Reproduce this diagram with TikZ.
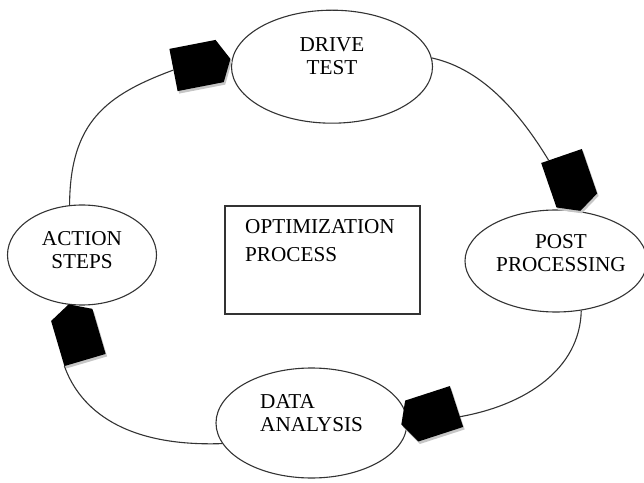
\documentclass[tikz,border=0pt]{standalone}
\usepackage{fontspec}
\setmainfont{Liberation Serif}
\usetikzlibrary{shapes.geometric,calc}
\begin{document}
\begin{tikzpicture}[x=1pt,y=1pt,
  ell/.style={draw=black!80, line width=1.1pt, ellipse, inner sep=0pt},
  lbl/.style={inner sep=0pt, font=\fontsize{21.2}{23}\selectfont, align=center},
  conn/.style={draw=black!80, line width=1.1pt},
  penta/.pic={\fill (0,-21.5) -- (47,-21.5) -- (58,0) -- (47,21.5) -- (0,21.5) -- cycle;
    \coordinate (-b) at (0,0); \coordinate (-s) at (0,-21.5); \coordinate (-n) at (0,21.5);},
  shade/.style={gray!45}]
\useasboundingbox (0,0) rectangle (644,482);
% ellipses
\node[ell, minimum width=201pt, minimum height=113pt] (dt) at (332,415.3) {};
\node[ell, minimum width=182pt, minimum height=102pt] (pp) at (556,221) {};
\node[ell, minimum width=149pt, minimum height=100pt] (as) at (82,227) {};
\node[ell, minimum width=191pt, minimum height=110pt] (da) at (311.5,59) {};
% central box
\node[draw=black!80, line width=1.3pt, minimum width=195pt, minimum height=108pt, inner sep=0pt] (ob) at (322.5,222) {};
% labels
\node[lbl] (dtt) at (332,426) {DRIVE\\TEST};
\node[lbl] (ppt) at (561,228.5) {POST\\PROCESSING};
\node[lbl] (ast) at (82,231.5) {ACTION\\STEPS};
\node[lbl, align=left, anchor=west] (dat) at (260,68.5) {DATA\\ANALYSIS};
\node[lbl, align=left, anchor=west, font=\fontsize{21.2}{28}\selectfont] (obt) at (245,241) {OPTIMIZATION\\PROCESS};
% arrow heads (shadow, then head)
\pic[rotate=11, shade] (s1) at (175,409.5) {penta};
\pic[rotate=11] (p1) at (173.5,412) {penta};
\pic[rotate=-71, shade] (s2) at (563,323.5) {penta};
\pic[rotate=-71] (p2) at (561.5,326) {penta};
\pic[rotate=198, shade] (s3) at (458,73) {penta};
\pic[rotate=198] (p3) at (456.5,75.5) {penta};
\pic[rotate=106.4, shade] (s4) at (86.5,119.5) {penta};
\pic[rotate=106.4] (p4) at (85,122) {penta};
% connectors
\draw[conn] (as.104) .. controls (70,360) and (106,387) .. (p1-b);
\draw[conn] (dt.5) .. controls (484,412.6) and (521.5,366.4) .. ($(p2-b)!0.63!(p2-s)$);
\draw[conn] (pp.-63) .. controls (580,113) and (526,77) .. ($(p3-b)!0.5!(p3-n)$);
\draw[conn] (da.193) .. controls (125,35) and (80,72) .. (p4-n);
\end{tikzpicture}
\end{document}
